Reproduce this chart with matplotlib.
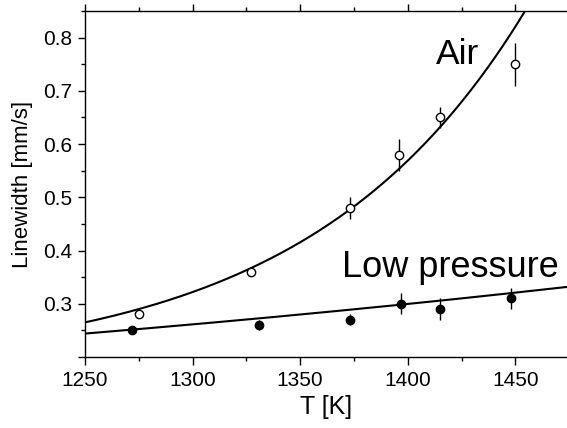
import numpy as np
import matplotlib
matplotlib.use("Agg")
import matplotlib.pyplot as plt
from matplotlib.ticker import MultipleLocator, FixedLocator

plt.rcParams['font.family'] = ['Liberation Sans', 'DejaVu Sans']

# Data
air_T = [1275, 1327, 1373, 1396, 1415, 1450]
air_w = [0.28, 0.36, 0.48, 0.58, 0.65, 0.75]
air_err = [0.0, 0.0, 0.02, 0.03, 0.02, 0.04]

lp_T = [1272, 1331, 1373, 1397, 1415, 1448]
lp_w = [0.25, 0.26, 0.27, 0.30, 0.29, 0.31]
lp_err = [0.0, 0.01, 0.01, 0.02, 0.02, 0.02]

# Fitted curve parameters: y = y0 + A*exp(k*(T-T0))
T0 = 1250
air_fit = dict(y0=0.176, A=0.089, k=0.0099)
lp_fit = dict(y0=0.0, A=0.244, k=0.00137)

xticks = [1250, 1300, 1350, 1400, 1450]
xtick_labels = ['1250', '1300', '1350', '1400', '1450']
yticks = [0.2, 0.3, 0.4, 0.5, 0.6, 0.7, 0.8]
ytick_labels = ['', '0.3', '0.4', '0.5', '0.6', '0.7', '0.8']

fig = plt.figure(figsize=(5.67, 4.28), dpi=100)
ax = fig.add_axes([85/567, (428-357)/428, 482/567, 346/428])

T = np.linspace(1250, 1480, 400)
ax.plot(T, air_fit['y0'] + air_fit['A']*np.exp(air_fit['k']*(T-T0)), color='black', lw=1.5, zorder=2)
ax.plot(T, lp_fit['y0'] + lp_fit['A']*np.exp(lp_fit['k']*(T-T0)), color='black', lw=1.5, zorder=2)

ax.errorbar(air_T, air_w, yerr=air_err, fmt='o', mfc='white', mec='black', mew=1.0,
            ms=6, ecolor='black', elinewidth=1.0, capsize=0, zorder=3)
ax.errorbar(lp_T, lp_w, yerr=lp_err, fmt='o', mfc='black', mec='black', mew=1.0,
            ms=6, ecolor='black', elinewidth=1.0, capsize=0, zorder=3)

ax.set_xlim(1250, 1474)
ax.set_ylim(0.2, 0.85)

ax.xaxis.set_major_locator(FixedLocator(xticks))
ax.set_xticklabels(xtick_labels)
ax.xaxis.set_minor_locator(MultipleLocator(25))
ax.yaxis.set_major_locator(FixedLocator(yticks))
ax.set_yticklabels(ytick_labels)
ax.yaxis.set_minor_locator(MultipleLocator(0.05))

ax.spines['right'].set_visible(False)
for s in ['left', 'bottom', 'top']:
    ax.spines[s].set_linewidth(1.0)

ax.tick_params(which='both', direction='out', top=True, right=False, width=1.0)
ax.tick_params(which='major', length=5.4, labelsize=15, pad=4)
ax.tick_params(which='minor', length=2.9)
ax.tick_params(axis='x', which='major', pad=5)

ax.set_xlabel('T [K]', fontsize=18)
ax.set_ylabel('Linewidth [mm/s]', fontsize=16)
ax.xaxis.set_label_coords(0.500, -0.110)
ax.yaxis.set_label_coords(-0.108, 0.5)

ax.text(1413.3, 0.751, 'Air', fontsize=25.5, ha='left', va='baseline')
ax.text(1369.5, 0.350, 'Low pressure', fontsize=26, ha='left', va='baseline')

fig.savefig('out.png', dpi=100)
